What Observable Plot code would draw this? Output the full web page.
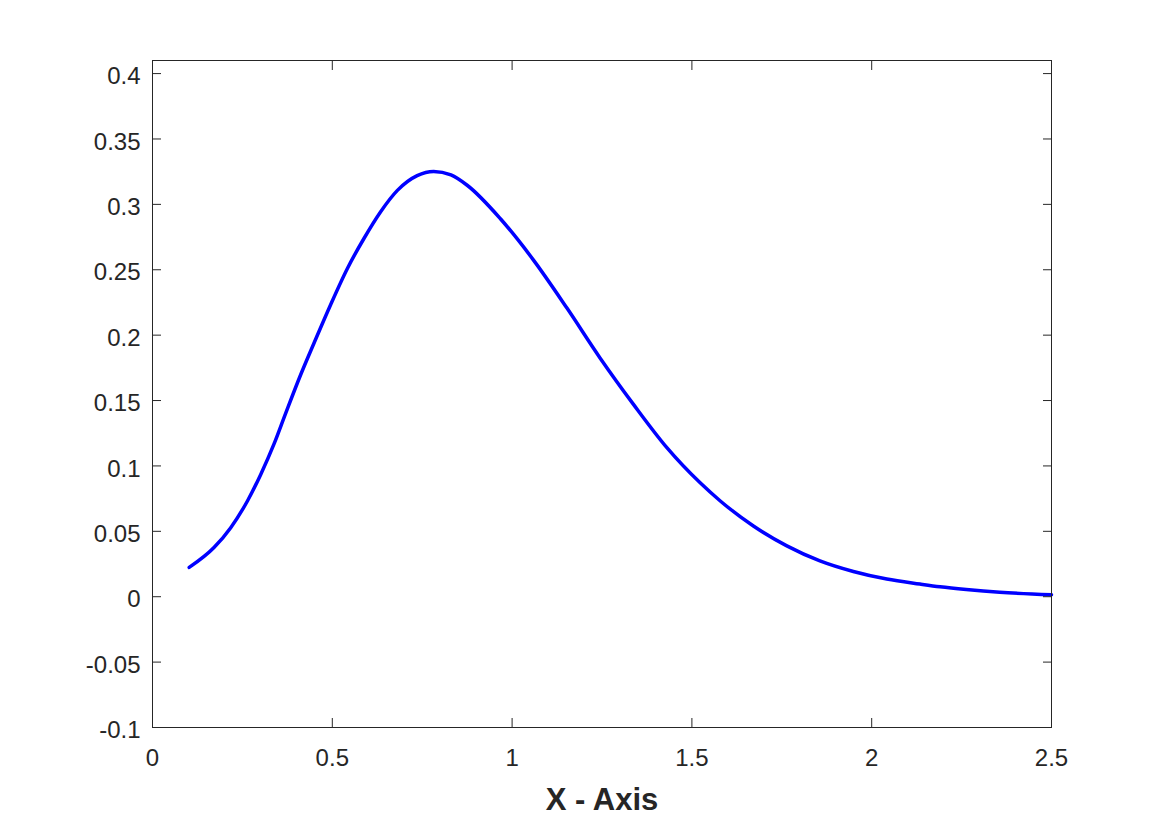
<!DOCTYPE html>
<html><head><meta charset="utf-8">
<script src="https://cdn.jsdelivr.net/npm/d3@7"></script>
<script src="https://cdn.jsdelivr.net/npm/@observablehq/plot@0.6"></script>
<style>
body{margin:0;background:#fff;}
#chart svg{display:block;}
g[aria-label="x-axis label"] text{font-weight:bold;font-size:31px;}
</style></head><body><div id="chart"></div>
<script>
const xValues = [0.102,0.171,0.2175,0.264,0.301,0.338,0.370,0.412,0.449,0.495,0.542,0.588,0.634,0.681,0.736,0.782,0.83,0.875,0.9675,1.060,1.153,1.245,1.338,1.431,1.523,1.579,1.671,1.764,1.856,1.949,2.042,2.134,2.19,2.263,2.356,2.5];
const yValues = [0.0224,0.0376,0.0528,0.0732,0.0935,0.1168,0.1400,0.1697,0.1938,0.2231,0.251,0.2739,0.2942,0.3107,0.322,0.3252,0.3225,0.3146,0.289,0.2572,0.2205,0.1824,0.1469,0.1138,0.0871,0.0732,0.0541,0.0389,0.0274,0.0193,0.0135,0.0097,0.0076,0.0055,0.0034,0.0015];
const xTicks = [0,0.5,1,1.5,2,2.5];
const yTicks = [-0.1,-0.05,0,0.05,0.1,0.15,0.2,0.25,0.3,0.35,0.4];
const xLabel = "X - Axis";

const data = xValues.map((x,i)=>({x, y:yValues[i]}));
const ink = "#262626";
const chart = Plot.plot({
  width:1163, height:817,
  marginLeft:152, marginRight:112, marginTop:60, marginBottom:90,
  style:{fontFamily:"'Liberation Sans', Arial, sans-serif", fontSize:"24px", color: ink, background:"#fff"},
  x:{domain:[0,2.5]},
  y:{domain:[-0.1,0.41]},
  marks:[
    Plot.line(data,{x:"x",y:"y",stroke:"#0000ff",strokeWidth:3.5,curve:"monotone-x"}),
    Plot.frame({stroke:ink}),
    Plot.axisX(xTicks,{anchor:"bottom", tickSize:0, tickPadding:21, tickFormat:d=>String(d), label:xLabel, labelAnchor:"center", labelArrow:"none", labelOffset:82}),
    Plot.axisX(xTicks,{anchor:"bottom", tickSize:-9, tickFormat:()=>"", label:null, stroke:ink}),
    Plot.axisX(xTicks,{anchor:"top", tickSize:-9, tickFormat:()=>"", label:null, stroke:ink}),
    Plot.axisY(yTicks,{anchor:"left", tickSize:0, tickPadding:12, tickFormat:d=>String(d), label:null, dy:3}),
    Plot.axisY(yTicks,{anchor:"left", tickSize:-9, tickFormat:()=>"", label:null, stroke:ink}),
    Plot.axisY(yTicks,{anchor:"right", tickSize:-9, tickFormat:()=>"", label:null, stroke:ink})
  ]
});
document.getElementById("chart").appendChild(chart);
</script></body></html>
